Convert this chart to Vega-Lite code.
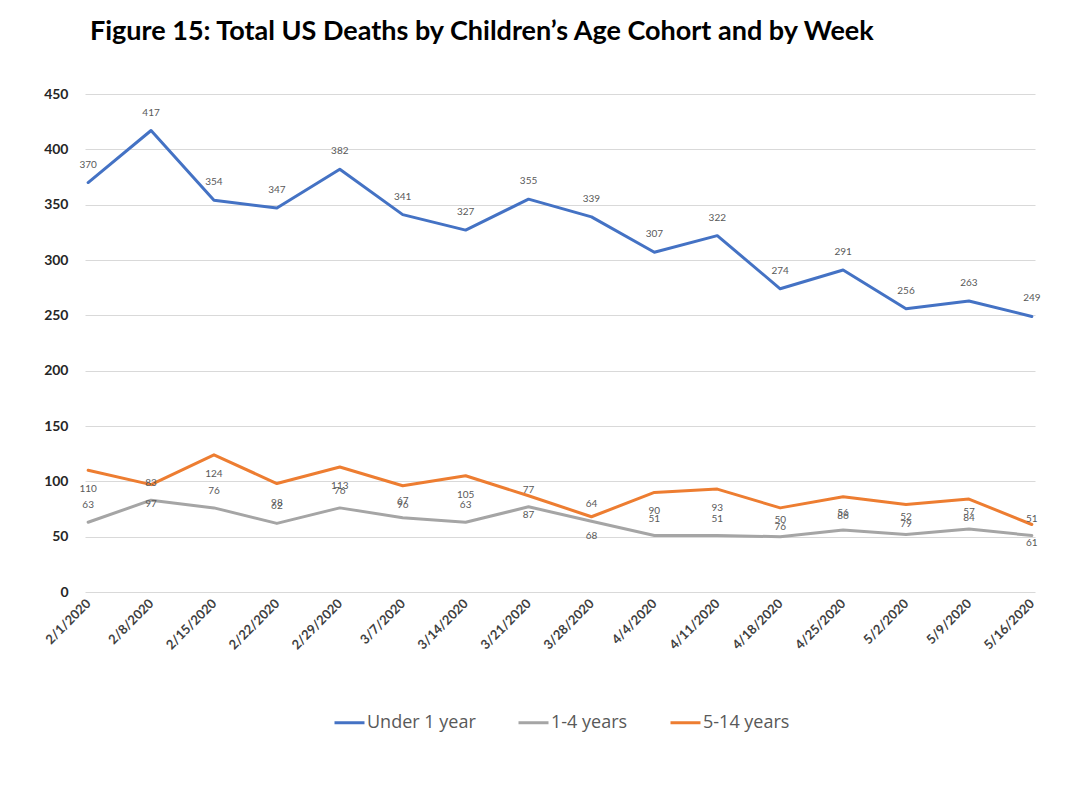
{
  "$schema": "https://vega.github.io/schema/vega-lite/v6.json",
  "autosize": {"type": "none"},
  "width": 950,
  "height": 498,
  "padding": {"left": 85, "top": 94, "right": 30, "bottom": 211},
  "background": "white",
  "title": {
    "text": "Figure 15: Total US Deaths by Children’s Age Cohort and by Week",
    "anchor": "start",
    "frame": "group",
    "dx": 5,
    "offset": 20,
    "baseline": "alphabetic",
    "font": "Lato",
    "fontSize": 27,
    "fontWeight": "bold",
    "color": "#000000"
  },
  "data": {
    "values": [
      {"date": "2/1/2020", "series": "Under 1 year", "value": 370},
      {"date": "2/8/2020", "series": "Under 1 year", "value": 417},
      {"date": "2/15/2020", "series": "Under 1 year", "value": 354},
      {"date": "2/22/2020", "series": "Under 1 year", "value": 347},
      {"date": "2/29/2020", "series": "Under 1 year", "value": 382},
      {"date": "3/7/2020", "series": "Under 1 year", "value": 341},
      {"date": "3/14/2020", "series": "Under 1 year", "value": 327},
      {"date": "3/21/2020", "series": "Under 1 year", "value": 355},
      {"date": "3/28/2020", "series": "Under 1 year", "value": 339},
      {"date": "4/4/2020", "series": "Under 1 year", "value": 307},
      {"date": "4/11/2020", "series": "Under 1 year", "value": 322},
      {"date": "4/18/2020", "series": "Under 1 year", "value": 274},
      {"date": "4/25/2020", "series": "Under 1 year", "value": 291},
      {"date": "5/2/2020", "series": "Under 1 year", "value": 256},
      {"date": "5/9/2020", "series": "Under 1 year", "value": 263},
      {"date": "5/16/2020", "series": "Under 1 year", "value": 249},
      {"date": "2/1/2020", "series": "1-4 years", "value": 63},
      {"date": "2/8/2020", "series": "1-4 years", "value": 83},
      {"date": "2/15/2020", "series": "1-4 years", "value": 76},
      {"date": "2/22/2020", "series": "1-4 years", "value": 62},
      {"date": "2/29/2020", "series": "1-4 years", "value": 76},
      {"date": "3/7/2020", "series": "1-4 years", "value": 67},
      {"date": "3/14/2020", "series": "1-4 years", "value": 63},
      {"date": "3/21/2020", "series": "1-4 years", "value": 77},
      {"date": "3/28/2020", "series": "1-4 years", "value": 64},
      {"date": "4/4/2020", "series": "1-4 years", "value": 51},
      {"date": "4/11/2020", "series": "1-4 years", "value": 51},
      {"date": "4/18/2020", "series": "1-4 years", "value": 50},
      {"date": "4/25/2020", "series": "1-4 years", "value": 56},
      {"date": "5/2/2020", "series": "1-4 years", "value": 52},
      {"date": "5/9/2020", "series": "1-4 years", "value": 57},
      {"date": "5/16/2020", "series": "1-4 years", "value": 51},
      {"date": "2/1/2020", "series": "5-14 years", "value": 110},
      {"date": "2/8/2020", "series": "5-14 years", "value": 97},
      {"date": "2/15/2020", "series": "5-14 years", "value": 124},
      {"date": "2/22/2020", "series": "5-14 years", "value": 98},
      {"date": "2/29/2020", "series": "5-14 years", "value": 113},
      {"date": "3/7/2020", "series": "5-14 years", "value": 96},
      {"date": "3/14/2020", "series": "5-14 years", "value": 105},
      {"date": "3/21/2020", "series": "5-14 years", "value": 87},
      {"date": "3/28/2020", "series": "5-14 years", "value": 68},
      {"date": "4/4/2020", "series": "5-14 years", "value": 90},
      {"date": "4/11/2020", "series": "5-14 years", "value": 93},
      {"date": "4/18/2020", "series": "5-14 years", "value": 76},
      {"date": "4/25/2020", "series": "5-14 years", "value": 86},
      {"date": "5/2/2020", "series": "5-14 years", "value": 79},
      {"date": "5/9/2020", "series": "5-14 years", "value": 84},
      {"date": "5/16/2020", "series": "5-14 years", "value": 61}
    ]
  },
  "encoding": {
    "x": {
      "field": "date",
      "type": "nominal",
      "sort": null,
      "scale": {"type": "point", "padding": 0.05},
      "axis": {
        "title": null,
        "domain": false,
        "ticks": false,
        "grid": false,
        "labelAngle": -45,
        "labelAlign": "right",
        "labelBaseline": "middle",
        "labelPadding": 9,
        "labelFont": "Lato",
        "labelFontSize": 13,
        "labelFontWeight": "bold",
        "labelColor": "#404040"
      }
    },
    "y": {
      "field": "value",
      "type": "quantitative",
      "scale": {"domain": [0, 450], "nice": false},
      "axis": {
        "title": null,
        "values": [0, 50, 100, 150, 200, 250, 300, 350, 400, 450],
        "domain": false,
        "ticks": false,
        "gridColor": "#D9D9D9",
        "gridWidth": 1,
        "labelPadding": 17,
        "labelFont": "Lato",
        "labelFontSize": 14,
        "labelFontWeight": "bold",
        "labelColor": "#262626"
      }
    }
  },
  "layer": [
    {
      "mark": {"type": "line", "strokeWidth": 3, "strokeJoin": "round", "strokeCap": "round"},
      "encoding": {
        "color": {
          "field": "series",
          "type": "nominal",
          "scale": {
            "domain": ["Under 1 year", "1-4 years", "5-14 years"],
            "range": ["#4472C4", "#A5A5A5", "#ED7D31"]
          },
          "legend": {
            "title": null,
            "orient": "none",
            "direction": "horizontal",
            "legendX": 248,
            "legendY": 612,
            "padding": 0,
            "symbolType": "stroke",
            "symbolSize": 900,
            "symbolStrokeWidth": 3,
            "columnPadding": 36,
            "labelOffset": 1,
            "labelFont": "Open Sans",
            "labelFontSize": 18,
            "labelColor": "#595959"
          }
        }
      }
    },
    {
      "transform": [{"filter": "datum.series === 'Under 1 year'"}],
      "mark": {"type": "text", "dy": -18, "font": "Lato", "fontSize": 10, "color": "#595959"},
      "encoding": {"text": {"field": "value", "type": "quantitative"}}
    },
    {
      "transform": [{"filter": "datum.series === '1-4 years'"}],
      "mark": {"type": "text", "dy": -17, "font": "Lato", "fontSize": 10, "color": "#595959"},
      "encoding": {"text": {"field": "value", "type": "quantitative"}}
    },
    {
      "transform": [{"filter": "datum.series === '5-14 years'"}],
      "mark": {"type": "text", "dy": 19, "font": "Lato", "fontSize": 10, "color": "#595959"},
      "encoding": {"text": {"field": "value", "type": "quantitative"}}
    }
  ],
  "config": {
    "view": {"stroke": null}
  }
}
